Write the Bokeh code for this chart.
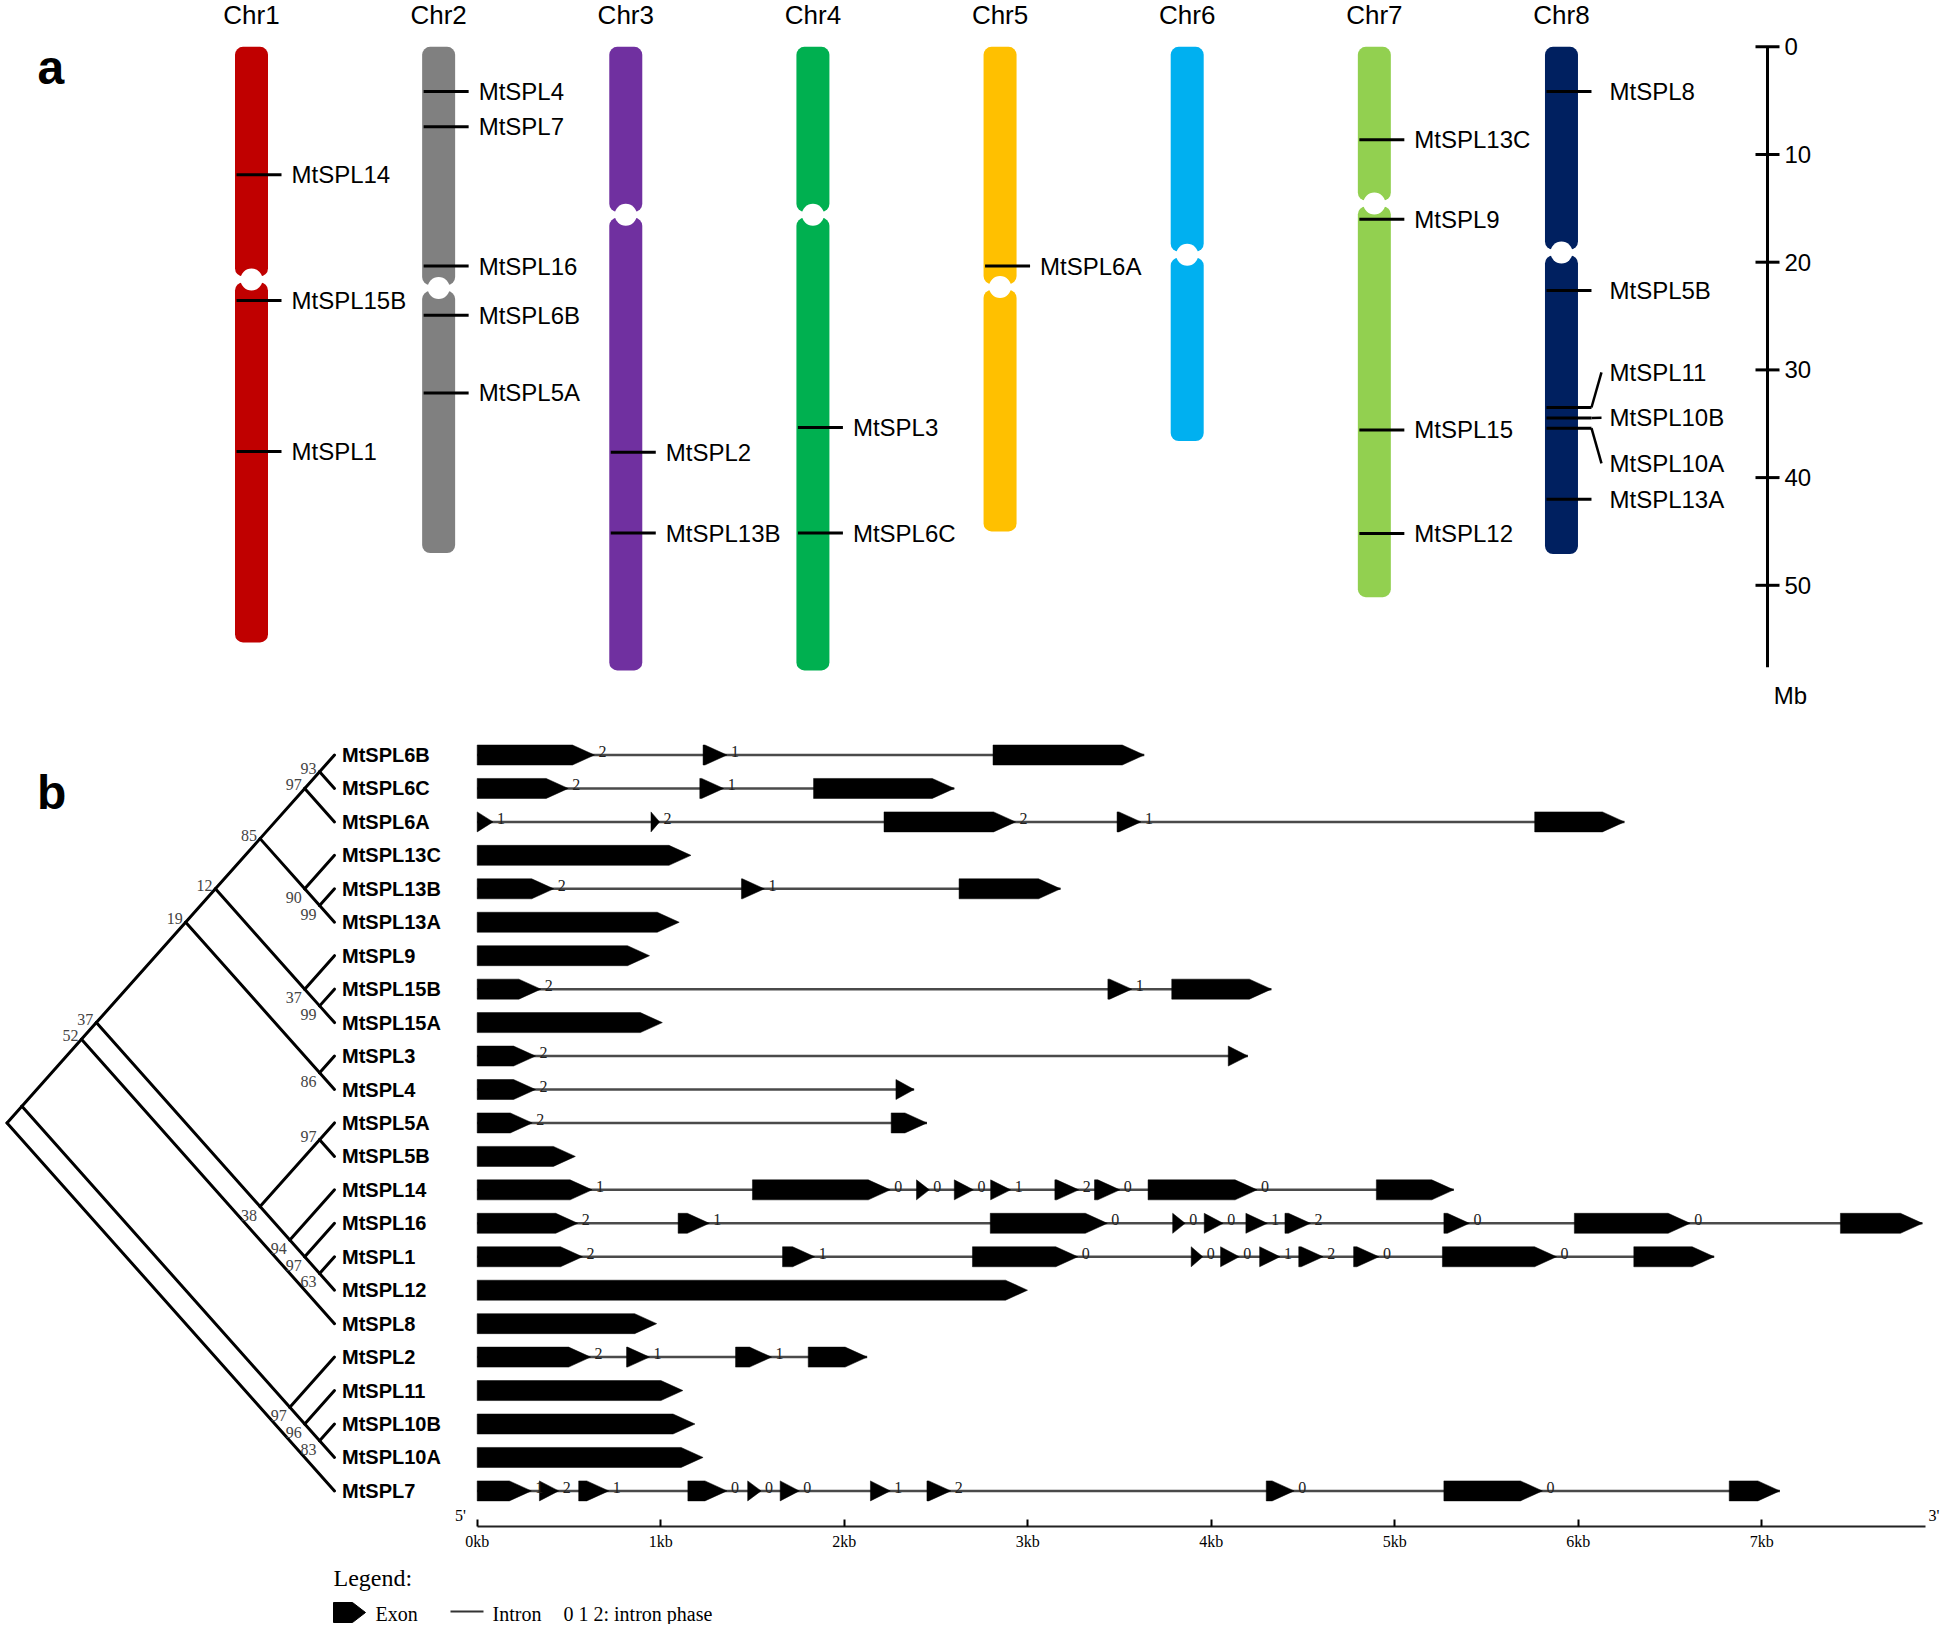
from bokeh.plotting import figure
from bokeh.models import Range1d, FixedTicker
from bokeh.layouts import column
from bokeh.embed import file_html
from bokeh.resources import INLINE
from bokeh.core.properties import value

# ======================= DATA: panel a (chromosome map) =======================
chrom_names = ["Chr1", "Chr2", "Chr3", "Chr4", "Chr5", "Chr6", "Chr7", "Chr8"]
chrom_length_mb = [55.3, 47.0, 57.9, 57.9, 45.0, 36.6, 51.1, 47.1]
centromere_mb = [21.6, 22.4, 15.6, 15.6, 22.3, 19.3, 14.55, 19.1]
chrom_colors = ["#C00000", "#808080", "#7030A0", "#00B050",
                "#FFC000", "#00B0F0", "#92D050", "#002060"]

locus_names = ["MtSPL14", "MtSPL15B", "MtSPL1",
               "MtSPL4", "MtSPL7", "MtSPL16", "MtSPL6B", "MtSPL5A",
               "MtSPL2", "MtSPL13B",
               "MtSPL3", "MtSPL6C",
               "MtSPL6A",
               "MtSPL13C", "MtSPL9", "MtSPL15", "MtSPL12",
               "MtSPL8", "MtSPL5B", "MtSPL11", "MtSPL10B", "MtSPL10A", "MtSPL13A"]
locus_chrom = [1, 1, 1,
               2, 2, 2, 2, 2,
               3, 3,
               4, 4,
               5,
               7, 7, 7, 7,
               8, 8, 8, 8, 8, 8]
locus_mb = [11.87, 23.56, 37.57,
            4.15, 7.43, 20.36, 24.92, 32.14,
            37.65, 45.15,
            35.35, 45.15,
            20.36,
            8.64, 16.02, 35.58, 45.19,
            4.15, 22.63, 33.49, 34.46, 35.41, 42.0]

scale_ticks_mb = [0, 10, 20, 30, 40, 50]
scale_tick_labels = ["0", "10", "20", "30", "40", "50"]
scale_end_mb = 57.6
scale_unit = "Mb"

# ======================= DATA: panel b (tree + gene structure) =======================
gene_order = ["MtSPL6B", "MtSPL6C", "MtSPL6A", "MtSPL13C", "MtSPL13B", "MtSPL13A",
              "MtSPL9", "MtSPL15B", "MtSPL15A", "MtSPL3", "MtSPL4", "MtSPL5A",
              "MtSPL5B", "MtSPL14", "MtSPL16", "MtSPL1", "MtSPL12", "MtSPL8",
              "MtSPL2", "MtSPL11", "MtSPL10B", "MtSPL10A", "MtSPL7"]

exon_starts = [
    [0, 1.231, 2.811],
    [0, 1.213, 1.833],
    [0, 0.947, 2.217, 3.487, 5.763],
    [0],
    [0, 1.440, 2.626],
    [0],
    [0],
    [0, 3.437, 3.785],
    [0],
    [0, 4.093],
    [0, 2.282],
    [0, 2.256],
    [0],
    [0, 1.500, 2.394, 2.600, 2.798, 3.148, 3.364, 3.656, 4.900],
    [0, 1.095, 2.796, 3.790, 3.962, 4.189, 4.402, 5.268, 5.979, 7.429],
    [0, 1.664, 2.699, 3.891, 4.051, 4.264, 4.477, 4.776, 5.260, 6.303],
    [0],
    [0],
    [0, 0.814, 1.408, 1.804],
    [0],
    [0],
    [0],
    [0, 0.339, 0.553, 1.148, 1.474, 1.651, 2.143, 2.451, 4.300, 5.268, 6.823],
]
exon_ends = [
    [0.639, 1.361, 3.635],
    [0.496, 1.343, 2.600],
    [0.086, 0.994, 2.934, 3.617, 6.252],
    [1.165],
    [0.417, 1.565, 3.179],
    [1.101],
    [0.939],
    [0.347, 3.567, 4.328],
    [1.009],
    [0.318, 4.200],
    [0.318, 2.381],
    [0.300, 2.451],
    [0.535],
    [0.626, 2.251, 2.464, 2.704, 2.907, 3.278, 3.502, 4.250, 5.322],
    [0.548, 1.265, 3.434, 3.858, 4.065, 4.306, 4.541, 5.407, 6.610, 7.876],
    [0.574, 1.839, 3.273, 3.954, 4.153, 4.375, 4.610, 4.914, 5.882, 6.741],
    [2.999],
    [0.978],
    [0.618, 0.939, 1.604, 2.125],
    [1.121],
    [1.187],
    [1.231],
    [0.295, 0.444, 0.717, 1.361, 1.547, 1.755, 2.251, 2.581, 4.452, 5.805, 7.099],
]
intron_phases = [
    [2, 1], [2, 1], [1, 2, 2, 1], [], [2, 1], [], [], [2, 1], [], [2], [2], [2], [],
    [1, 0, 0, 0, 1, 2, 0, 0],
    [2, 1, 0, 0, 0, 1, 2, 0, 0],
    [2, 1, 0, 0, 0, 1, 2, 0, 0],
    [], [], [2, 1, 1], [], [], [],
    [1, 2, 1, 0, 0, 0, 1, 2, 0, 0],
]

kb_ticks = [0, 1, 2, 3, 4, 5, 6, 7]
kb_tick_labels = ["0kb", "1kb", "2kb", "3kb", "4kb", "5kb", "6kb", "7kb"]
kb_axis_end = 7.89


def N(a, b, bs=None):
    return {"children": [a, b], "bs": bs}


clade6 = N(N("MtSPL6B", "MtSPL6C", 93), "MtSPL6A", 97)
clade13 = N("MtSPL13C", N("MtSPL13B", "MtSPL13A", 99), 90)
clade15 = N("MtSPL9", N("MtSPL15B", "MtSPL15A", 99), 37)
clade12 = N(N(clade6, clade13, 85), clade15, 12)
clade19 = N(clade12, N("MtSPL3", "MtSPL4", 86), 19)
clade38 = N(N("MtSPL5A", "MtSPL5B", 97),
            N("MtSPL14", N("MtSPL16", N("MtSPL1", "MtSPL12", 63), 97), 94), 38)
clade52 = N(N(clade19, clade38, 37), "MtSPL8", 52)
clade97 = N("MtSPL2", N("MtSPL11", N("MtSPL10B", "MtSPL10A", 83), 96), 97)
tree = N(N(clade52, clade97), "MtSPL7")

# ======================= LAYOUT CONSTANTS (pixels) =======================
W = 1940
SANS = "Liberation Sans"
SERIF = "Liberation Serif"

# panel a
A_H = 722
CHR_PX = 187.14          # px between chromosomes
CHR1_PX = 251.0          # px of Chr1 centre from left
MB_PX = 10.77            # px per Mb
MB0_PX = 46.3            # px of 0 Mb from top
BAR_W_PX = 33.0
SCALE_X_PX = 1767.0

# panel b
B_FRAME_H = 804
B_BOTTOM = 34
B_TOP = A_H
KB_PX = 183.5
KB0_PX = 476.7
ROW_PX = 33.45
ROW0_PX = 754.5 - B_TOP
LEAF_PX = 334.0
SLANT = 0.89
EXON_HALF_PX = 10.0
TIP_PX = 22.0

C_H = 64


def ax_x(px):       # page px -> chromosome axis units
    return 1 + (px - CHR1_PX) / CHR_PX


def ax_mb(py):      # page px -> Mb
    return (py - MB0_PX) / MB_PX


# ======================= PANEL A =======================
pa = figure(width=W, height=A_H, output_backend="svg", toolbar_location=None,
            x_axis_location=None, y_axis_location=None,
            min_border_left=0, min_border_top=0, min_border_bottom=0,
            min_border_right=0, outline_line_color=None,
            x_range=Range1d(ax_x(0), ax_x(W)),
            y_range=Range1d(ax_mb(A_H), ax_mb(0)))
pa.grid.visible = False

cx = [i + 1 for i in range(len(chrom_names))]
bar_w = BAR_W_PX / CHR_PX
gap = 3.0 / MB_PX
pa.vbar(x=cx, width=bar_w, top=[0] * len(cx), bottom=[c - gap for c in centromere_mb],
        fill_color=chrom_colors, line_color=None, border_radius=8)
pa.vbar(x=cx, width=bar_w, top=[c + gap for c in centromere_mb], bottom=chrom_length_mb,
        fill_color=chrom_colors, line_color=None, border_radius=8)
pa.scatter(x=cx, y=centromere_mb, size=22, marker="circle", fill_color="white", line_color=None)

pa.text(x=cx, y=[ax_mb(14)] * len(cx), text=chrom_names,
        text_align="center", text_baseline="middle", text_font=value(SANS),
        text_font_size="26px", text_color="black")

# labels with de-overlap spreading
label_mb = list(locus_mb)
spread_chrom = set()
i = 0
while i < len(locus_mb):
    j = i
    while (j + 1 < len(locus_mb) and locus_chrom[j + 1] == locus_chrom[i]
           and locus_mb[j + 1] - locus_mb[j] < 2.0):
        j += 1
    if j > i:
        n = j - i + 1
        centre = sum(locus_mb[i:j + 1]) / n
        for k in range(n):
            label_mb[i + k] = centre + (k - (n - 1) / 2) * 4.23
        spread_chrom.add(locus_chrom[i])
    i = j + 1

pa.segment(x0=[c - 15.0 / CHR_PX for c in locus_chrom], x1=[c + 30.0 / CHR_PX for c in locus_chrom],
           y0=locus_mb, y1=locus_mb, line_color="black", line_width=3)
con_x0, con_x1, con_y0, con_y1 = [], [], [], []
for c, m, lm in zip(locus_chrom, locus_mb, label_mb):
    if abs(lm - m) > 1e-6:
        con_x0.append(c + 30.0 / CHR_PX)
        con_x1.append(c + 40.0 / CHR_PX)
        con_y0.append(m)
        con_y1.append(lm)
pa.segment(x0=con_x0, x1=con_x1, y0=con_y0, y1=con_y1, line_color="black", line_width=2.5)
lab_off = [48 if c in spread_chrom else 40 for c in locus_chrom]
pa.text(x=locus_chrom, y=label_mb, text=locus_names, x_offset=lab_off,
        text_align="left", text_baseline="middle", text_font=value(SANS),
        text_font_size="24px", text_color="black")

pa.text(x=[ax_x(37)], y=[ax_mb(67)], text=["a"], text_align="left",
        text_baseline="alphabetic", text_font=value(SANS), text_font_style="bold",
        text_font_size="48px", text_color="black")

# scale bar (Mb)
sx = ax_x(SCALE_X_PX)
tick_half = 12.0 / CHR_PX
pa.segment(x0=[sx], x1=[sx], y0=[0], y1=[scale_end_mb], line_color="black", line_width=3)
pa.segment(x0=[sx - tick_half] * len(scale_ticks_mb), x1=[sx + tick_half] * len(scale_ticks_mb),
           y0=scale_ticks_mb, y1=scale_ticks_mb, line_color="black", line_width=3)
pa.text(x=[sx] * len(scale_ticks_mb), y=scale_ticks_mb, text=scale_tick_labels, x_offset=17,
        text_align="left", text_baseline="middle", text_font=value(SANS),
        text_font_size="24px", text_color="black")
pa.text(x=[sx], y=[scale_end_mb + 28.0 / MB_PX], text=[scale_unit], x_offset=23,
        text_align="center", text_baseline="middle", text_font=value(SANS),
        text_font_size="24px", text_color="black")

# ======================= PANEL B =======================
B_H = B_FRAME_H + B_BOTTOM


def kb_x(px):
    return (px - KB0_PX) / KB_PX


def row_y(py):
    return (py - B_TOP - ROW0_PX) / ROW_PX


pb = figure(width=W, height=B_H, output_backend="svg", toolbar_location=None,
            x_axis_location="below", y_axis_location=None,
            min_border_left=0, min_border_top=0, min_border_right=0,
            min_border_bottom=B_BOTTOM, outline_line_color=None,
            x_range=Range1d(kb_x(0), kb_x(W)),
            y_range=Range1d(row_y(B_TOP + B_FRAME_H), row_y(B_TOP)))
pb.extra_x_ranges = {"tree": Range1d(-LEAF_PX / ROW_PX, (W - LEAF_PX) / ROW_PX)}
pb.grid.visible = False

# tree layout
leaf_row = {g: r for r, g in enumerate(gene_order)}
edges = []
boot = []


def walk(node):
    if isinstance(node, str):
        r = leaf_row[node]
        return {"x": 0.0, "y": float(r), "lo": r, "hi": r}
    kids = [walk(c) for c in node["children"]]
    lo = min(k["lo"] for k in kids)
    hi = max(k["hi"] for k in kids)
    info = {"x": -SLANT * (hi - lo) / 2.0, "y": (lo + hi) / 2.0, "lo": lo, "hi": hi}
    for j, (child, k) in enumerate(zip(node["children"], kids)):
        edges.append((info["x"], info["y"], k["x"], k["y"]))
        if not isinstance(child, str) and child["bs"] is not None:
            boot.append((k["x"], k["y"], str(child["bs"]), j == 0))
    return info


walk(tree)
pb.segment(x0=[e[0] for e in edges], y0=[e[1] for e in edges],
           x1=[e[2] for e in edges], y1=[e[3] for e in edges],
           x_range_name="tree", line_color="black", line_width=3, line_cap="round")
up = [b for b in boot if b[3]]
dn = [b for b in boot if not b[3]]
pb.text(x=[b[0] for b in up], y=[b[1] for b in up], text=[b[2] for b in up],
        x_range_name="tree", x_offset=-3, y_offset=2, text_align="right",
        text_baseline="bottom", text_font=value(SERIF), text_font_size="16px",
        text_color="#444444")
pb.text(x=[b[0] for b in dn], y=[b[1] for b in dn], text=[b[2] for b in dn],
        x_range_name="tree", x_offset=-3, y_offset=3, text_align="right",
        text_baseline="top", text_font=value(SERIF), text_font_size="16px",
        text_color="#444444")
pb.text(x=[0.0] * len(gene_order), y=list(range(len(gene_order))), text=gene_order,
        x_range_name="tree", x_offset=7.5, text_align="left", text_baseline="middle",
        text_font=value(SANS), text_font_style="bold", text_font_size="20px",
        text_color="black")

# introns
ix0, ix1, iy = [], [], []
for r, (s, e) in enumerate(zip(exon_starts, exon_ends)):
    if len(s) > 1:
        ix0.append(s[0])
        ix1.append(e[-1])
        iy.append(r)
pb.segment(x0=ix0, x1=ix1, y0=iy, y1=iy, line_color="#4a4a4a", line_width=2.5)

# exons
hh = EXON_HALF_PX / ROW_PX
xs, ys = [], []
px_, py_, pt_ = [], [], []
for r, (ss, ee) in enumerate(zip(exon_starts, exon_ends)):
    for s, e in zip(ss, ee):
        tip = min(TIP_PX, (e - s) * KB_PX) / KB_PX
        xs.append([s, e - tip, e, e - tip, s])
        ys.append([r - hh, r - hh, r, r + hh, r + hh])
    for k, ph in enumerate(intron_phases[r]):
        px_.append(ee[k])
        py_.append(r)
        pt_.append(str(ph))
pb.patches(xs=xs, ys=ys, fill_color="black", line_color="black", line_width=0.5)
pb.text(x=px_, y=py_, text=pt_, x_offset=4, y_offset=2, text_align="left",
        text_baseline="bottom", text_font=value(SERIF), text_font_size="16px",
        text_color="#222222")

pb.text(x=[kb_x(36.6)], y=[row_y(792)], text=["b"],
        text_align="left", text_baseline="alphabetic", text_font=value(SANS),
        text_font_style="bold", text_font_size="48px", text_color="black")
pb.text(x=[kb_x(460), kb_x(W - 1)], y=[row_y(1515)] * 2, text=["5'", "3'"],
        text_align=["center", "right"], text_baseline="middle",
        text_font=value(SERIF), text_font_size="16px", text_color="black")

bx = pb.xaxis[0]
bx.ticker = FixedTicker(ticks=kb_ticks)
bx.major_label_overrides = {t: s for t, s in zip(kb_ticks, kb_tick_labels)}
bx.bounds = (0, kb_axis_end)
bx.minor_tick_line_color = None
bx.major_tick_in = 7
bx.major_tick_out = 0
bx.axis_line_width = 2
bx.axis_line_color = "#222222"
bx.major_tick_line_width = 2
bx.major_label_standoff = 6
bx.major_label_text_font = SERIF
bx.major_label_text_font_size = "16px"
bx.major_label_text_color = "black"

# ======================= LEGEND (panel c) =======================
c_top = A_H + B_H
pc = figure(width=W, height=C_H, output_backend="svg", toolbar_location=None,
            x_axis_location=None, y_axis_location=None,
            min_border_left=0, min_border_top=0, min_border_right=0, min_border_bottom=0,
            outline_line_color=None,
            x_range=Range1d(0, W), y_range=Range1d(c_top + C_H, c_top))
pc.grid.visible = False
pc.text(x=[333], y=[1577], text=["Legend:"], text_align="left", text_baseline="middle",
        text_font=value(SERIF), text_font_size="24px", text_color="black")
pc.patch(x=[333, 352, 365, 352, 333], y=[1602, 1602, 1612, 1622, 1622],
         fill_color="black", line_color="black")
pc.segment(x0=[450], x1=[483], y0=[1611], y1=[1611], line_color="#333333", line_width=2)
pc.text(x=[375, 492, 563], y=[1613] * 3, text=["Exon", "Intron", "0 1 2: intron phase"],
        text_align="left", text_baseline="middle", text_font=value(SERIF),
        text_font_size="20px", text_color="black")

layout = column(pa, pb, pc, spacing=0)
open("out.html", "w").write(file_html(layout, INLINE, title="MtSPL"))
